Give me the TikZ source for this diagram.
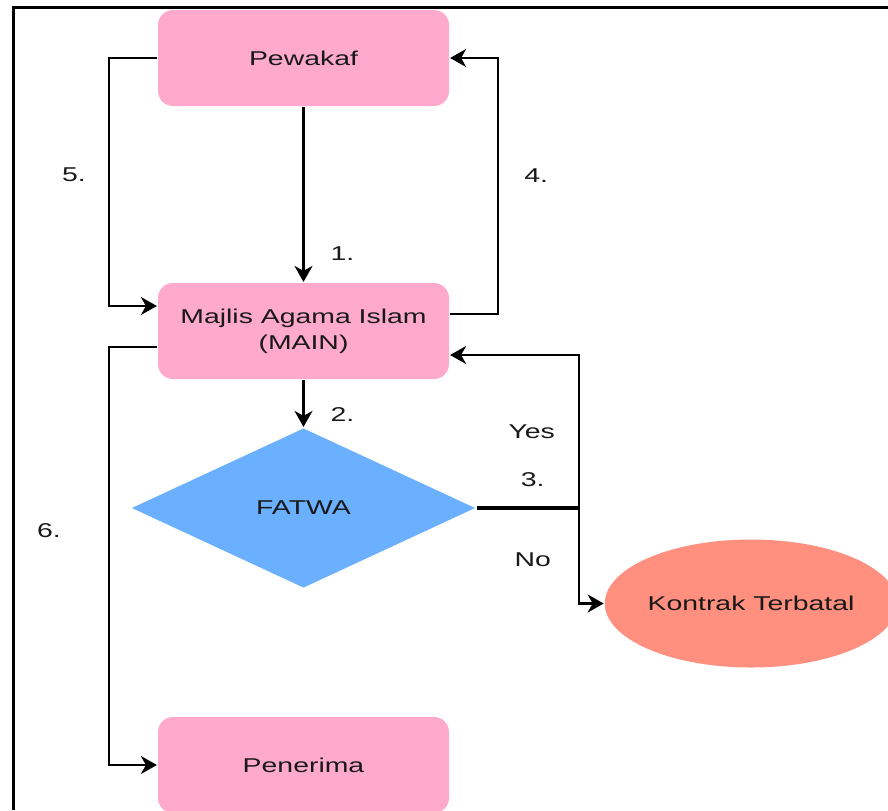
\documentclass[tikz,border=0pt]{standalone}
\usepackage{fontspec}
\setmainfont[FakeStretch=1.42]{Liberation Sans}
\usetikzlibrary{positioning,shapes.geometric,arrows.meta}

\definecolor{boxpink}{RGB}{255,170,204}
\definecolor{fatwablue}{RGB}{106,176,255}
\definecolor{batalred}{RGB}{255,143,126}

\begin{document}
\begin{tikzpicture}[x=0.5pt,y=-0.5pt,line width=1.1pt,
                    >={Stealth[length=8pt,width=9pt,inset=2.5pt]},
                    font=\fontsize{10}{13}\selectfont,
                    box node/.style={rectangle,rounded corners=7.5pt,fill=boxpink,text=black!90,
                      minimum width=145.5pt,minimum height=48pt,align=center},
                    test node/.style={diamond,fill=fatwablue,text=black!90,inner sep=0pt,
                      minimum width=172pt,minimum height=80pt},
                    end node/.style={ellipse,fill=batalred,text=black!90,inner sep=0pt,
                      minimum width=142.5pt,minimum height=64pt},
                    num/.style={text=black!90,inner sep=0pt}]

  \useasboundingbox (0,0) rectangle (888,810);
  \clip (0,0) rectangle (888,810);
  \fill[white] (0,0) rectangle (888,810);
  \draw[line width=1.5pt] (13,810) -- (13,7) -- (888,7);

  \node[box node] (pew) at (303.5,58) {Pewakaf};
  \node[box node] (main) [below of=pew,node distance=136.5pt] {Majlis Agama Islam\\(MAIN)};
  \node[test node] (fatwa) [below of=main,node distance=88.5pt] {FATWA};
  \node[box node] (terima) [below of=fatwa,node distance=128.5pt] {Penerima};
  \node[end node] (batal) at (751,603.5) {Kontrak Terbatal};

  \coordinate (fork) at ([xshift=-12.5pt]fatwa.east -| batal.west);

  \draw[->] (pew) -- node[num,pos=.84,xshift=19.5pt] {1.} (main);
  \draw[->] (main) -- node[num,pos=.74,xshift=19.5pt] {2.} (fatwa);
  \draw[line width=1.6pt] (fatwa.east) -- node[num,pos=.55,yshift=14pt] {3.} (fork);
  \draw[->] (fork) |- node[num,pos=.25,xshift=-23.5pt] {Yes} ([yshift=-12pt]main.east);
  \draw[->] (fork) |- node[num,pos=.27,xshift=-23pt] {No} (batal.west);
  \draw[->] ([yshift=8.5pt]main.east) -- ++(48,0) |- node[num,pos=.27,xshift=19pt] {4.} (pew.east);
  \draw[->] (pew.west) -- ++(-48,0) |- node[num,pos=.236,xshift=-17.5pt] {5.} ([yshift=12.5pt]main.west);
  \draw[->] ([yshift=-8pt]main.west) -- ++(-48,0) |- node[num,pos=.22,xshift=-30pt] {6.} (terima.west);
\end{tikzpicture}
\end{document}
